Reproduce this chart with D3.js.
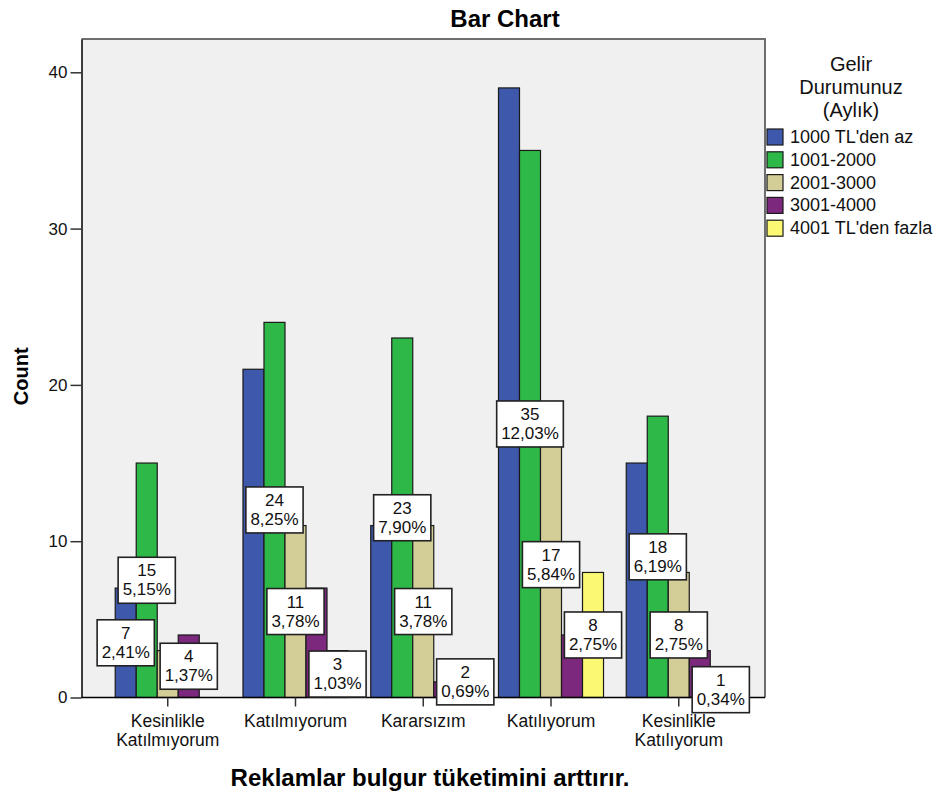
<!DOCTYPE html>
<html>
<head>
<meta charset="utf-8">
<script src="https://cdn.jsdelivr.net/npm/d3@7"></script>
<style>
  html, body { margin: 0; padding: 0; background: #ffffff; }
  svg { display: block; font-family: Arial, "Liberation Sans", sans-serif; }
</style>
</head>
<body>
<svg id="chart" width="938" height="796"></svg>
<script>
// Answer categories for "Reklamlar bulgur tüketimini arttırır."
const categories = [
  ["Kesinlikle", "Katılmıyorum"],
  ["Katılmıyorum"],
  ["Kararsızım"],
  ["Katılıyorum"],
  ["Kesinlikle", "Katılıyorum"]
];

// Income groups (legend)
const seriesNames = ["1000 TL'den az", "1001-2000", "2001-3000", "3001-4000", "4001 TL'den fazla"];
const seriesColors = ["#3e58ac", "#2eb848", "#d3ce97", "#7c287d", "#fbf873"];

// Counts per income group, one entry per answer category
const income1000 = [7, 21, 11, 39, 15];
const income2000 = [15, 24, 23, 35, 18];
const income3000 = [3, 11, 11, 17, 8];
const income4000 = [4, 7, 1, 4, 3];
const income4001 = [0, 3, 2, 8, 1];

const yTicks = [0, 10, 20, 30, 40];

const seriesValues = [income1000, income2000, income3000, income4000, income4001];
const total = d3.sum(seriesValues, s => d3.sum(s));

const svg = d3.select("#chart");
const plot = { left: 81.5, right: 765, top: 39, bottom: 697.5 };

const x = d3.scaleBand()
  .domain(d3.range(categories.length))
  .range([plot.left, plot.right])
  .paddingInner(0.178)
  .paddingOuter(0.264);

const xs = d3.scaleBand()
  .domain(d3.range(seriesNames.length))
  .range([0, x.bandwidth()]);

const y = d3.scaleLinear()
  .domain([0, 42.13])
  .range([plot.bottom, plot.top]);

// plot background and frame
svg.append("rect")
  .attr("x", plot.left).attr("y", plot.top)
  .attr("width", plot.right - plot.left).attr("height", plot.bottom - plot.top)
  .attr("fill", "#f0f0f0");
svg.append("path")
  .attr("d", `M${plot.left},${plot.top}H${plot.right}V${plot.bottom}`)
  .attr("fill", "none").attr("stroke", "#6e6e6e").attr("stroke-width", 2);

// bars
const cells = [];
seriesValues.forEach((vals, si) => {
  vals.forEach((v, ci) => cells.push({ si, ci, v }));
});

svg.append("g").selectAll("rect")
  .data(cells.filter(d => d.v > 0))
  .join("rect")
  .attr("x", d => x(d.ci) + xs(d.si))
  .attr("y", d => y(d.v))
  .attr("width", xs.bandwidth())
  .attr("height", d => y(0) - y(d.v))
  .attr("fill", d => seriesColors[d.si])
  .attr("stroke", "#1a1a1a")
  .attr("stroke-width", 1.2);

// y axis
const yAxis = svg.append("g")
  .attr("transform", `translate(${plot.left},0)`)
  .call(d3.axisLeft(y).tickValues(yTicks).tickSize(11).tickSizeOuter(0).tickPadding(3).tickFormat(d3.format("d")));
yAxis.select(".domain").attr("stroke", "#000").attr("stroke-width", 1.5);
yAxis.selectAll(".tick line").attr("stroke", "#333").attr("stroke-width", 1.5);
yAxis.selectAll(".tick text").attr("font-size", 17).attr("fill", "#111")
  .attr("font-family", "Arial, 'Liberation Sans', sans-serif");

// x axis
const xAxis = svg.append("g")
  .attr("transform", `translate(0,${plot.bottom})`)
  .call(d3.axisBottom(x).tickSize(9).tickSizeOuter(0).tickFormat(""));
xAxis.select(".domain").attr("stroke", "#000").attr("stroke-width", 1.5)
  .attr("d", `M${plot.left},0H${plot.right}`);
xAxis.selectAll(".tick line").attr("stroke", "#333").attr("stroke-width", 1.5);

// category labels
const catG = svg.append("g");
categories.forEach((lines, ci) => {
  const t = catG.append("text")
    .attr("x", x(ci) + x.bandwidth() / 2)
    .attr("y", 727)
    .attr("text-anchor", "middle")
    .attr("font-size", 17.5)
    .attr("fill", "#111");
  lines.forEach((ln, i) => {
    t.append("tspan").attr("x", x(ci) + x.bandwidth() / 2).attr("dy", i === 0 ? 0 : 19).text(ln);
  });
});

// data labels: value and share of total, centred on each bar's midpoint;
// a label that would overlap one already placed is skipped
const fmtPct = v => (v / total * 100).toFixed(2).replace(".", ",") + "%";
const labelG = svg.append("g");
const placed = [];
const boxH = 46;
categories.forEach((_, ci) => {
  for (let si = seriesNames.length - 1; si >= 0; si--) {
    const v = seriesValues[si][ci];
    if (v <= 0) continue;
    const cx = x(ci) + xs(si) + xs.bandwidth() / 2;
    const cy = y(v / 2);
    const g = labelG.append("g");
    const rect = g.append("rect");
    const t1 = g.append("text")
      .attr("x", cx).attr("y", cy - 4)
      .attr("text-anchor", "middle").attr("font-size", 17).attr("fill", "#111")
      .text(v);
    const t2 = g.append("text")
      .attr("x", cx).attr("y", cy + 15)
      .attr("text-anchor", "middle").attr("font-size", 17).attr("fill", "#111")
      .text(fmtPct(v));
    const w = Math.max(t1.node().getBBox().width, t2.node().getBBox().width) + 9;
    const box = { x0: cx - w / 2, x1: cx + w / 2, y0: cy - boxH / 2, y1: cy + boxH / 2 };
    const hit = placed.some(b => box.x0 < b.x1 && box.x1 > b.x0 && box.y0 < b.y1 && box.y1 > b.y0);
    if (hit) { g.remove(); continue; }
    placed.push(box);
    rect.attr("x", box.x0).attr("y", box.y0).attr("width", w).attr("height", boxH)
      .attr("fill", "#ffffff").attr("stroke", "#222").attr("stroke-width", 1.6);
  }
});

// axis titles and chart title
svg.append("text")
  .attr("x", 505).attr("y", 27)
  .attr("text-anchor", "middle").attr("font-size", 24).attr("font-weight", "bold")
  .attr("fill", "#000").text("Bar Chart");

svg.append("text")
  .attr("transform", `translate(28,${(plot.top + plot.bottom) / 2 + 8}) rotate(-90)`)
  .attr("text-anchor", "middle").attr("font-size", 20).attr("font-weight", "bold")
  .attr("fill", "#000").text("Count");

svg.append("text")
  .attr("x", 430).attr("y", 786)
  .attr("text-anchor", "middle").attr("font-size", 24).attr("font-weight", "bold")
  .attr("fill", "#000").text("Reklamlar bulgur tüketimini arttırır.");

// legend
const lg = svg.append("g");
["Gelir", "Durumunuz", "(Aylık)"].forEach((ln, i) => {
  lg.append("text")
    .attr("x", 851).attr("y", 71 + i * 23)
    .attr("text-anchor", "middle").attr("font-size", 20).attr("fill", "#111")
    .text(ln);
});
const items = lg.selectAll("g.item")
  .data(seriesNames)
  .join("g")
  .attr("class", "item")
  .attr("transform", (d, i) => `translate(767,${129 + i * 22.8})`);
items.append("rect")
  .attr("width", 16).attr("height", 16)
  .attr("fill", (d, i) => seriesColors[i])
  .attr("stroke", "#1a1a1a").attr("stroke-width", 1.2);
items.append("text")
  .attr("x", 23).attr("y", 14)
  .attr("font-size", 18).attr("fill", "#111")
  .text(d => d);
</script>
</body>
</html>
